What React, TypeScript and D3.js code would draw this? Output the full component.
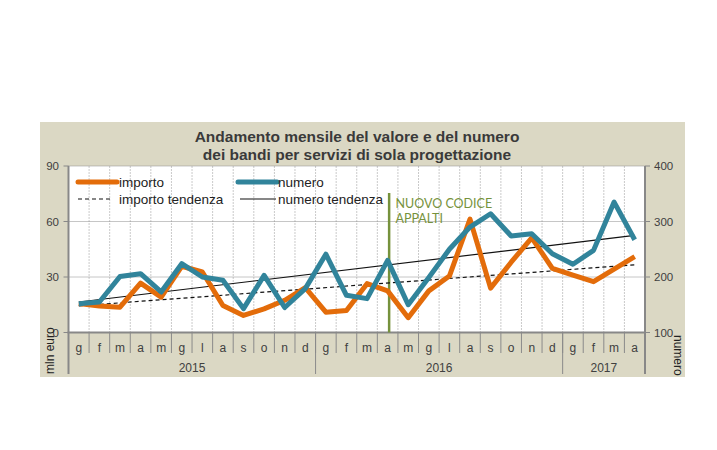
import React from 'react';
import * as d3 from 'd3';

// chart data
const monthLabels = ['g', 'f', 'm', 'a', 'm', 'g', 'l', 'a', 's', 'o', 'n', 'd',
  'g', 'f', 'm', 'a', 'm', 'g', 'l', 'a', 's', 'o', 'n', 'd',
  'g', 'f', 'm', 'a'];
const years = ['2015', '2016', '2017'];
const yearMonths = [12, 12, 4];
const importo = [15.6, 14.3, 13.7, 26.7, 19.1, 35.8, 32.7, 14.6, 9.2, 12.8, 17.4, 24.2,
  11.0, 11.9, 26.4, 22.5, 8.0, 22.5, 30.5, 61.3, 24.0, 38.0, 51.2, 34.7,
  31.0, 27.5, 34.3, 41.0];
const numero = [152, 155, 201, 206, 173, 224, 200, 194, 143, 203, 145, 179,
  241, 167, 161, 230, 150, 199, 250, 290, 314, 274, 278, 242,
  223, 248, 335, 267];
// trend lines: value at first and last month
const importoTrend = [14.4, 36.6];
const numeroTrend = [155, 275];
const leftTicks = [0, 30, 60, 90];
const rightTicks = [100, 200, 300, 400];
const codiceMonth = 15; // aprile 2016

const W = 717;
const H = 450;
const ORANGE = '#e36c0a';
const TEAL = '#31849b';
const GREEN = '#76923c';
const TEXT = '#404040';
const FONT = '"Liberation Sans", Arial, sans-serif';

const App: React.FC = () => {
  const plot = { left: 68.5, right: 645, top: 166, bottom: 332.5 };

  const x = d3.scaleBand<number>()
    .domain(d3.range(monthLabels.length))
    .range([plot.left, plot.right])
    .padding(0);
  const bw = x.bandwidth();
  const cx = (i: number) => (x(i) as number) + bw / 2;

  const yL = d3.scaleLinear().domain([0, 90]).range([plot.bottom, plot.top]);
  const yR = d3.scaleLinear().domain([100, 400]).range([plot.bottom, plot.top]);

  const lineL = d3.line<number>().x((_, i) => cx(i)).y((d) => yL(d));
  const lineR = d3.line<number>().x((_, i) => cx(i)).y((d) => yR(d));
  const last = monthLabels.length - 1;

  // year boundaries
  const yearStarts: number[] = [];
  yearMonths.reduce((acc, n) => { yearStarts.push(acc); return acc + n; }, 0);

  const lx = 78;
  return (
    <div style={{ position: 'absolute', left: 0, top: 0 }}>
      <svg width={W} height={H} style={{ display: 'block', fontFamily: FONT }}>
        <rect x={0} y={0} width={W} height={H} fill="#fff" />
        <rect x={40} y={122} width={645} height={255} fill="#dbd8c4" />
        <rect x={plot.left} y={plot.top} width={plot.right - plot.left} height={plot.bottom - plot.top} fill="#fff" />

        {/* title */}
        <text x={357} y={141.5} textAnchor="middle" fontSize={15.5} fontWeight="bold" fill="#3a3a3a">
          Andamento mensile del valore e del numero
        </text>
        <text x={357} y={160} textAnchor="middle" fontSize={15.5} fontWeight="bold" fill="#3a3a3a">
          dei bandi per servizi di sola progettazione
        </text>

        {/* vertical grid */}
        {d3.range(1, monthLabels.length).map((i) => (
          <line key={'vg' + i} x1={x(i)} x2={x(i)} y1={plot.top} y2={plot.bottom}
            stroke="#cacaca" strokeWidth={1} strokeDasharray="2,1" />
        ))}
        {/* horizontal grid */}
        {leftTicks.slice(1).map((t) => (
          <line key={'hg' + t} x1={plot.left} x2={plot.right} y1={yL(t)} y2={yL(t)}
            stroke="#8c8c8c" strokeWidth={1} strokeDasharray="1,1" />
        ))}

        {/* category axis */}
        {d3.range(1, monthLabels.length).map((i) => (
          <line key={'mt' + i} x1={x(i)} x2={x(i)} y1={plot.bottom} y2={353}
            stroke="#8a8a8a" strokeWidth={1} />
        ))}
        {yearStarts.concat([monthLabels.length]).map((s) => {
          const xx = s === monthLabels.length ? plot.right : (x(s) as number);
          return <line key={'yt' + s} x1={xx} x2={xx} y1={plot.bottom} y2={374} stroke="#8a8a8a" strokeWidth={1} />;
        })}
        {monthLabels.map((m, i) => (
          <text key={'ml' + i} x={cx(i)} y={351.5} textAnchor="middle" fontSize={12} fill={TEXT}>{m}</text>
        ))}
        {years.map((yr, k) => {
          const a = x(yearStarts[k]) as number;
          const b = a + yearMonths[k] * bw;
          return <text key={yr} x={(a + b) / 2} y={372} textAnchor="middle" fontSize={12} fill={TEXT}>{yr}</text>;
        })}

        {/* axes lines */}
        <line x1={plot.left} x2={plot.left} y1={plot.top} y2={374} stroke="#888" strokeWidth={2} />
        <line x1={plot.right} x2={plot.right} y1={plot.top} y2={374} stroke="#888" strokeWidth={2} />
        <line x1={plot.left - 1} x2={plot.right + 1} y1={plot.bottom} y2={plot.bottom} stroke="#888" strokeWidth={2} />

        {/* left ticks */}
        {leftTicks.map((t) => (
          <g key={'lt' + t}>
            <line x1={plot.left - 5} x2={plot.left} y1={yL(t)} y2={yL(t)} stroke="#888" />
            <text x={59} y={yL(t) + 4} textAnchor="end" fontSize={11.5} fill={TEXT}>{t}</text>
          </g>
        ))}
        {/* right ticks */}
        {rightTicks.map((t) => (
          <g key={'rt' + t}>
            <line x1={plot.right} x2={plot.right + 5} y1={yR(t)} y2={yR(t)} stroke="#888" />
            <text x={654} y={yR(t) + 4} textAnchor="start" fontSize={11.5} fill={TEXT}>{t}</text>
          </g>
        ))}
        <text transform="translate(54,374) rotate(-90)" fontSize={12} fill="#222">mln euro</text>
        <text transform="translate(674,335) rotate(90)" fontSize={12} fill="#222">numero</text>

        {/* nuovo codice */}
        <line x1={cx(codiceMonth) + 1.5} x2={cx(codiceMonth) + 1.5} y1={193} y2={plot.bottom}
          stroke={GREEN} strokeWidth={2.5} />
        <text x={395.5} y={207.5} fontSize={12.5} fill={GREEN} fontFamily="Lato, 'Open Sans', sans-serif">NUOVO CODICE</text>
        <text x={395.5} y={223} fontSize={12.5} fill={GREEN} fontFamily="Lato, 'Open Sans', sans-serif">APPALTI</text>

        {/* trend lines */}
        <line x1={cx(0)} x2={cx(last)} y1={yL(importoTrend[0])} y2={yL(importoTrend[1])}
          stroke="#111" strokeWidth={1.2} strokeDasharray="4,3" />
        <line x1={cx(0)} x2={cx(last)} y1={yR(numeroTrend[0])} y2={yR(numeroTrend[1])}
          stroke="#111" strokeWidth={1.2} />

        {/* series */}
        <path d={lineL(importo) as string} fill="none" stroke={ORANGE} strokeWidth={5} strokeLinejoin="round" />
        <path d={lineR(numero) as string} fill="none" stroke={TEAL} strokeWidth={5} strokeLinejoin="round" />

        {/* legend */}
        <line x1={lx} x2={117} y1={182} y2={182} stroke={ORANGE} strokeWidth={5} strokeLinecap="round" />
        <text x={119} y={186.5} fontSize={13.5} fill="#222">importo</text>
        <line x1={238} x2={277} y1={182} y2={182} stroke={TEAL} strokeWidth={5} strokeLinecap="round" />
        <text x={278} y={186.5} fontSize={13.5} fill="#222">numero</text>
        <line x1={lx} x2={111} y1={199} y2={199} stroke="#111" strokeWidth={1.2} strokeDasharray="4,3" />
        <text x={119} y={203.5} fontSize={13.5} fill="#222">importo tendenza</text>
        <line x1={240} x2={276} y1={199} y2={199} stroke="#111" strokeWidth={1.2} />
        <text x={278} y={203.5} fontSize={13.5} fill="#222">numero tendenza</text>
      </svg>
    </div>
  );
};

export default App;
